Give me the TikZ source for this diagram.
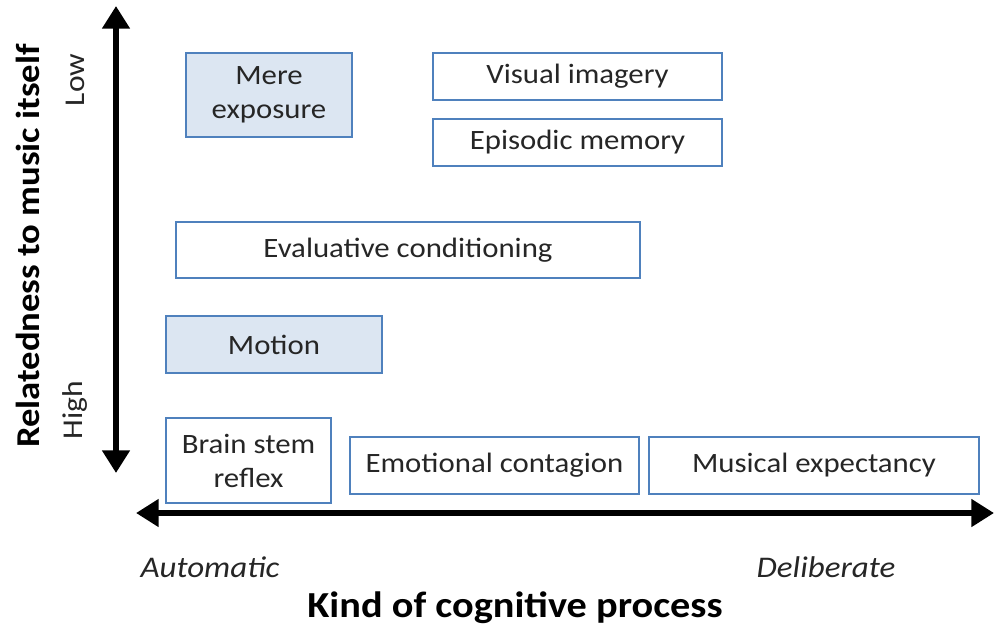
\documentclass[tikz,border=0pt]{standalone}
\usepackage{fontspec}
\setmainfont{Carlito}[FakeStretch=1.1]
\usetikzlibrary{arrows.meta}
\definecolor{boxBlue}{HTML}{4F81BD}
\definecolor{boxFill}{HTML}{DCE6F2}
\definecolor{txtInk}{HTML}{262626}
\tikzset{
  box/.style    = {draw=boxBlue, line width=1.7pt, fill=white, inner sep=0pt,
                   font=\fontsize{21}{25.5}\selectfont, text=txtInk, align=center},
  boxf/.style   = {box, fill=boxFill},
  arr/.style    = {{Triangle[length=17pt,width=20pt]}-{Triangle[length=17pt,width=20pt]},
                   line width=5pt, black},
  axlab/.style  = {font=\fontsize{27.5}{30}\selectfont\bfseries, text=black},
  ticklab/.style= {font=\fontsize{21.5}{24}\selectfont, text=txtInk},
}
\begin{document}
\begin{tikzpicture}[x=0.75pt, y=-0.75pt]
    \useasboundingbox (0,0) rectangle (994,629);
    % axes
    \coordinate (vtop) at (116,6);
    \coordinate (vbot) at (116,473);
    \coordinate (hleft) at (136,513);
    \coordinate (hright) at (994,513);
    \draw[arr] (vbot) -- (vtop);
    \draw[arr] (hleft) -- (hright);
    % mechanisms
    \node[boxf, minimum width=166*0.75pt, minimum height=84*0.75pt] (mere) at (269,95) {Mere\\exposure};
    \node[box,  minimum width=289*0.75pt, minimum height=47*0.75pt] (visual) at (577.5,76.5) {Visual imagery};
    \node[box,  minimum width=289*0.75pt, minimum height=47*0.75pt] (episodic) at (577.5,142.5) {Episodic memory};
    \node[box,  minimum width=464*0.75pt, minimum height=56*0.75pt] (evalcond) at (408,250) {Evaluative conditioning};
    \node[boxf, minimum width=216*0.75pt, minimum height=57*0.75pt] (motion) at (274,344.5) {Motion};
    \node[box,  minimum width=165*0.75pt, minimum height=85*0.75pt] (brainstem) at (248.5,460.5) {Brain stem\\reflex};
    \node[box,  minimum width=289*0.75pt, minimum height=57*0.75pt] (contagion) at (494.5,465.5) {Emotional contagion};
    \node[box,  minimum width=330*0.75pt, minimum height=57*0.75pt] (expect) at (814,465.5) {Musical expectancy};
    % axis labels
    \node[ticklab, rotate=90] (low) at (75,80) {Low};
    \node[ticklab, rotate=90] (high) at (75,410) {High};
    \node[axlab, font=\fontsize{25}{28}\selectfont\bfseries, rotate=90] (relat) at (28,246) {Relatedness to music itself};
    \node[ticklab, font=\fontsize{22.5}{24}\selectfont\itshape] (auto) at (210,567) {Automatic};
    \node[ticklab, font=\fontsize{22.5}{24}\selectfont\itshape] (delib) at (826,567) {Deliberate};
    \node[axlab] (kind) at (515,608) {Kind of cognitive process};
  \end{tikzpicture}
\end{document}
